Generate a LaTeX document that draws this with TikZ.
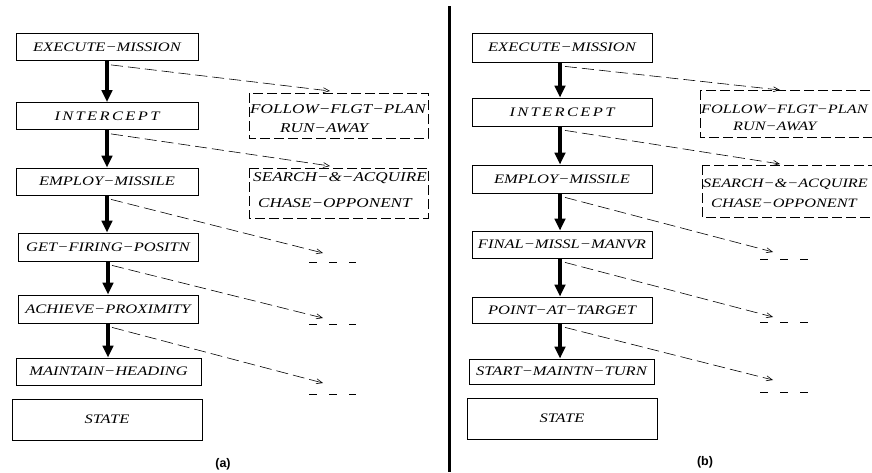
\documentclass[tikz,border=0pt]{standalone}
\usepackage{fontspec}
\setmainfont{Liberation Serif}
\newfontfamily\lblfont{Liberation Sans}
\newfontfamily\taskfont[FakeStretch=1.27]{Liberation Serif}
\usetikzlibrary{arrows.meta}

\newcommand{\dsh}{−}
\newcommand{\wide}[1]{{\addfontfeature{LetterSpace=18}#1}}

\tikzset{
  task/.style={draw, line width=0.8pt, inner sep=0pt, minimum width=182pt, minimum height=27pt,
    font=\taskfont\itshape\fontsize{13}{15}\selectfont},
  alttext/.style={anchor=base west, inner sep=0pt, font=\taskfont\itshape\fontsize{13.5}{15}\selectfont},
  alttextr/.style={alttext, font=\taskfont\itshape\fontsize{12.8}{15}\selectfont},
  altbox/.style={draw, line width=0.7pt, dash pattern=on 10pt off 4pt},
  down/.style={line width=3.5pt, -{Triangle[length=12pt,width=10.5pt]}},
  alt/.style={line width=0.6pt, dash pattern=on 12pt off 5pt, -{Straight Barb[length=6pt,width=5pt,line width=0.6pt]}},
  stub/.style={line width=0.8pt, dash pattern=on 8pt off 12pt},
  caption/.style={font=\lblfont\bfseries\fontsize{12.5}{14}\selectfont, inner sep=0pt}
}

\begin{document}
\begin{tikzpicture}[x=1pt, y=-1pt]
\useasboundingbox (0,0) rectangle (872,472);
\clip (0,0) rectangle (872,472);

% ---------- panel (a) ----------
\node[task] (aem) at (107,47)  {EXECUTE\dsh MISSION};
\node[task] (aic) at (107,116) {\wide{INTERCEPT}};
\node[task] (ams) at (107,181.5) {EMPLOY\dsh MISSILE};
\node[task, minimum width=180pt, minimum height=28pt] (agf) at (108,247) {GET\dsh FIRING\dsh POSITN};
\node[task, minimum width=180pt, minimum height=28pt] (aap) at (108,309) {ACHIEVE\dsh PROXIMITY};
\node[task, minimum width=185pt] (amh) at (108.5,371.5) {MAINTAIN\dsh HEADING};
\node[task, minimum width=190pt, minimum height=41pt] (ast) at (107,419.5) {STATE};

\draw[down] (aem.south) -- (aem.south |- aic.north);
\draw[down] (aic.south) -- (aic.south |- ams.north);
\draw[down] (ams.south) -- (ams.south |- agf.north);
\draw[down] (agf.south) -- (agf.south |- aap.north);
\draw[down] (aap.south) -- (aap.south |- amh.north);

% alternatives
\draw[altbox] (249,93) rectangle (428,138);
\node[alttext] (aalt1a) at (250,113) {FOLLOW\dsh FLGT\dsh PLAN};
\node[alttext] (aalt1b) at (280,132) {RUN\dsh AWAY};
\draw[altbox] (249,168) rectangle (428,218);
\node[alttext] (aalt2a) at (253,181) {SEARCH\dsh \&\dsh ACQUIRE};
\node[alttext] (aalt2b) at (258,207) {CHASE\dsh OPPONENT};

\coordinate (at1) at (330,91);
\coordinate (at2) at (330,166);
\coordinate (at3) at (323,253);
\coordinate (at4) at (323,318);
\coordinate (at5) at (323,383);
\coordinate (as3a) at (309,262); \coordinate (as3b) at (356,262);
\coordinate (as4a) at (309,324); \coordinate (as4b) at (356,324);
\coordinate (as5a) at (309,394); \coordinate (as5b) at (356,394);

\draw[alt] ([xshift=4pt,yshift=-4pt]aem.south) -- (at1);
\draw[alt] ([xshift=4pt,yshift=-4pt]aic.south) -- (at2);
\draw[alt] ([xshift=4pt,yshift=-4pt]ams.south) -- (at3);
\draw[alt] ([xshift=4pt,yshift=-4pt]agf.south) -- (at4);
\draw[alt] ([xshift=4pt,yshift=-4pt]aap.south) -- (at5);
\draw[stub] (as3a) -- (as3b);
\draw[stub] (as4a) -- (as4b);
\draw[stub] (as5a) -- (as5b);

\node[caption] (acap) at (223,464) {(a)};

% ---------- separator ----------
\coordinate (sept) at (449.5,6);
\coordinate (sepb) at (449.5,472);
\draw[line width=3pt] (sept) -- (sepb);

% ---------- panel (b) ----------
\node[task, minimum width=180pt, minimum height=29pt] (bem) at (562,47.5) {EXECUTE\dsh MISSION};
\node[task, minimum width=180pt, minimum height=28pt] (bic) at (562,112) {\wide{INTERCEPT}};
\node[task, minimum width=180pt, minimum height=28pt] (bms) at (562,179) {EMPLOY\dsh MISSILE};
\node[task, minimum width=180pt] (bfm) at (562,244.5) {FINAL\dsh MISSL\dsh MANVR};
\node[task, minimum width=180pt, minimum height=26pt] (bpt) at (562,310) {POINT\dsh AT\dsh TARGET};
\node[task, minimum width=185pt, minimum height=25pt] (bsm) at (561.5,371.5) {START\dsh MAINTN\dsh TURN};
\node[task, minimum width=190pt, minimum height=41pt] (bst) at (562,418.5) {STATE};

\draw[down] ([xshift=-2pt]bem.south) -- ([xshift=-2pt]bem.south |- bic.north);
\draw[down] ([xshift=-2pt]bic.south) -- ([xshift=-2pt]bic.south |- bms.north);
\draw[down] ([xshift=-2pt]bms.south) -- ([xshift=-2pt]bms.south |- bfm.north);
\draw[down] ([xshift=-2pt]bfm.south) -- ([xshift=-2pt]bfm.south |- bpt.north);
\draw[down] ([xshift=-2pt]bpt.south) -- ([xshift=-2pt]bpt.south |- bsm.north);

\draw[altbox] (700,90) rectangle (885,137);
\node[alttextr] (balt1a) at (701,113) {FOLLOW\dsh FLGT\dsh PLAN};
\node[alttextr] (balt1b) at (733,130) {RUN\dsh AWAY};
\draw[altbox] (702,165) rectangle (885,217);
\node[alttextr] (balt2a) at (703,187) {SEARCH\dsh \&\dsh ACQUIRE};
\node[alttextr] (balt2b) at (711,207) {CHASE\dsh OPPONENT};

\coordinate (bt1) at (780,90);
\coordinate (bt2) at (780,164);
\coordinate (bt3) at (773,252);
\coordinate (bt4) at (773,317);
\coordinate (bt5) at (773,380);
\coordinate (bs3a) at (760,259); \coordinate (bs3b) at (808,259);
\coordinate (bs4a) at (760,322); \coordinate (bs4b) at (808,322);
\coordinate (bs5a) at (760,392); \coordinate (bs5b) at (808,392);

\draw[alt] ([xshift=3pt,yshift=-4pt]bem.south) -- (bt1);
\draw[alt] ([xshift=3pt,yshift=-4pt]bic.south) -- (bt2);
\draw[alt] ([xshift=3pt,yshift=-4pt]bms.south) -- (bt3);
\draw[alt] ([xshift=3pt,yshift=-4pt]bfm.south) -- (bt4);
\draw[alt] ([xshift=3pt,yshift=-4pt]bpt.south) -- (bt5);
\draw[stub] (bs3a) -- (bs3b);
\draw[stub] (bs4a) -- (bs4b);
\draw[stub] (bs5a) -- (bs5b);

\node[caption] (bcap) at (705,462) {(b)};
\end{tikzpicture}
\end{document}
